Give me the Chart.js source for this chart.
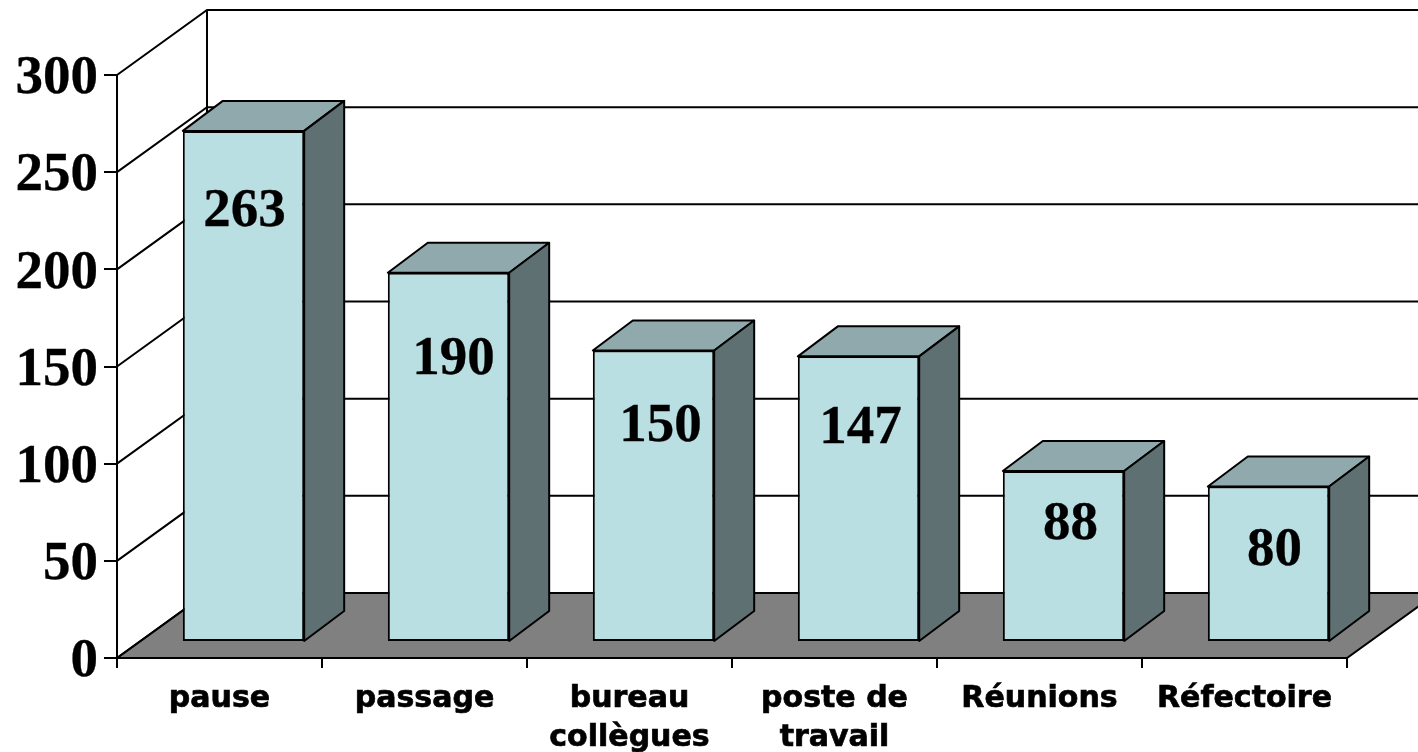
<!DOCTYPE html>
<html><head><meta charset="utf-8">
<style>html,body{margin:0;padding:0;background:#fff}#w{width:1418px;height:752px;position:relative}</style>
<script src="https://cdn.jsdelivr.net/npm/chart.js@4"></script>
</head><body><div id="w"><canvas id="c"></canvas></div>
<script>
const categories = [["pause"],["passage"],["bureau","collègues"],["poste de","travail"],["Réunions"],["Réfectoire"]];
const values = [263,190,150,147,88,80];
const yTicks = [0,50,100,150,200,250,300];

const WALL = {dx:90, dy:-65}, BAR_SHIFT = {dx:24, dy:-16}, BAR_DEPTH = {dx:40, dy:-30};
const LABEL_NUDGE_X = [1,5,7,2,7,6], LABEL_NUDGE_Y = [81,87,76,72,54,64];
const FRONT='#B9DFE2', TOP='#8FA9AC', SIDE='#5F7073', FLOOR='#808080', INK='#000';

function poly(ctx, pts, fill){
  ctx.beginPath(); pts.forEach((p,i)=> i?ctx.lineTo(p[0],p[1]):ctx.moveTo(p[0],p[1])); ctx.closePath();
  if(fill){ctx.fillStyle=fill;ctx.fill();}
  ctx.stroke();
}
const scene = {
  id:'scene',
  beforeDatasetsDraw(chart){
    const {ctx,chartArea:a,scales:{y}}=chart;
    ctx.save(); ctx.strokeStyle=INK; ctx.lineWidth=2; ctx.lineJoin='miter';
    const y0=y.getPixelForValue(0);
    poly(ctx,[[a.left,y0],[a.right,y0],[a.right+WALL.dx,y0+WALL.dy],[a.left+WALL.dx,y0+WALL.dy]],FLOOR);
    yTicks.forEach(v=>{
      const p=y.getPixelForValue(v);
      ctx.beginPath();
      ctx.moveTo(a.left,p); ctx.lineTo(a.left+WALL.dx,p+WALL.dy); ctx.lineTo(a.right+WALL.dx,p+WALL.dy);
      ctx.stroke();
    });
    ctx.beginPath();
    ctx.moveTo(a.left+WALL.dx,y.getPixelForValue(300)+WALL.dy);
    ctx.lineTo(a.left+WALL.dx,y0+WALL.dy);
    ctx.stroke();
    ctx.restore();
    ctx.save();
    ctx.translate(BAR_SHIFT.dx,BAR_SHIFT.dy);
  },
  afterDatasetsDraw(chart){
    const {ctx}=chart;
    const bars=chart.getDatasetMeta(0).data;
    ctx.strokeStyle=INK; ctx.lineWidth=2; ctx.lineJoin='round';
    bars.forEach(b=>{
      const l=b.x-b.width/2,r=b.x+b.width/2,t=b.y,bt=b.base,dx=BAR_DEPTH.dx,dy=BAR_DEPTH.dy;
      poly(ctx,[[l,t],[r,t],[r+dx,t+dy],[l+dx,t+dy]],TOP);
      poly(ctx,[[r,t],[r+dx,t+dy],[r+dx,bt+dy],[r,bt]],SIDE);
    });
    ctx.fillStyle=INK; ctx.font='bold 55px "Liberation Serif"'; ctx.textAlign='center'; ctx.textBaseline='middle';
    ctx.lineWidth=0.3;
    bars.forEach((b,i)=>{
      const s=String(values[i]),tx=b.x+LABEL_NUDGE_X[i],ty=b.y+LABEL_NUDGE_Y[i];
      ctx.fillText(s,tx,ty); ctx.strokeText(s,tx,ty);
    });
    ctx.restore();
  }
};
new Chart(document.getElementById('c'),{
  type:'bar',
  data:{labels:categories,datasets:[{data:values,backgroundColor:FRONT,borderColor:INK,borderWidth:2,borderSkipped:false,barPercentage:0.592,categoryPercentage:1}]},
  plugins:[scene],
  options:{
    responsive:true,maintainAspectRatio:false,animation:false,
    layout:{padding:{top:75,right:71,left:0,bottom:0}},
    plugins:{legend:{display:false},tooltip:{enabled:false}},
    scales:{
      y:{min:0,max:300,
        afterFit(s){s.width=117;},
        ticks:{stepSize:50,color:INK,padding:6,labelOffset:4,textStrokeColor:INK,textStrokeWidth:0.3,font:{family:'"Liberation Serif"',size:55,weight:'bold'}},
        border:{color:INK,width:2},
        grid:{drawOnChartArea:false,tickLength:13,color:INK,lineWidth:2}},
      x:{
        afterFit(s){s.height=94;},
        ticks:{color:INK,padding:11,maxRotation:0,autoSkip:false,textStrokeColor:INK,textStrokeWidth:0.7,font:{family:'"DejaVu Sans"',size:30,weight:'bold',lineHeight:1.32}},
        border:{color:INK,width:2},
        grid:{drawOnChartArea:false,tickLength:10,color:INK,lineWidth:2}}
    }
  }
});
</script></body></html>
